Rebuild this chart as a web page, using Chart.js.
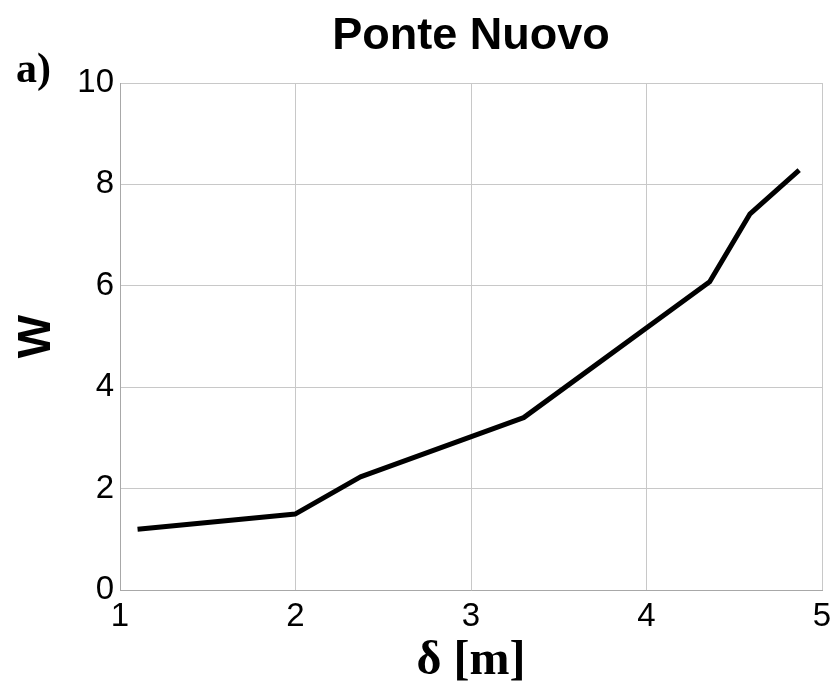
<!DOCTYPE html>
<html>
<head>
<meta charset="utf-8">
<script src="https://cdn.jsdelivr.net/npm/chart.js@4"></script>
<style>
  html, body { margin: 0; padding: 0; background: #ffffff; }
  #wrap { width: 837px; height: 688px; }
</style>
</head>
<body>
<div id="wrap"><canvas id="chart" width="837" height="688"></canvas></div>
<script>
// values
const delta = [1.1, 2.0, 2.37, 3.3, 4.36, 4.59, 4.87];
const wValues = [1.2, 1.5, 2.23, 3.4, 6.08, 7.42, 8.28];
const xTicks = [1, 2, 3, 4, 5];
const yTicks = [0, 2, 4, 6, 8, 10];

const points = delta.map((d, i) => ({ x: d, y: wValues[i] }));

// "a)" panel mark in the top left corner
const panelLabel = {
    id: 'panelLabel',
    afterDraw(chart) {
        const ctx = chart.ctx;
        ctx.save();
        ctx.fillStyle = '#000';
        ctx.font = 'bold 42px "Liberation Serif", "Times New Roman", serif';
        ctx.textBaseline = 'alphabetic';
        ctx.textAlign = 'left';
        ctx.fillText('a)', 16, 82);
        ctx.restore();
    }
};

const gridColor = '#c8c8c8';

const config = {
    type: 'line',
    data: {
        datasets: [
            {
                label: 'W',
                data: points,
                borderColor: '#000000',
                backgroundColor: '#000000',
                borderWidth: 5,
                pointRadius: 0,
                tension: 0,
                fill: false,
                borderCapStyle: 'butt',
                borderJoinStyle: 'round',
            }
        ]
    },
    options: {
        responsive: false,
        animation: false,
        layout: {
            padding: { left: 10, right: 15, top: 0, bottom: 2 }
        },
        scales: {
            x: {
                type: 'linear',
                min: 1,
                max: 5,
                afterBuildTicks: (scale) => { scale.ticks = xTicks.map(v => ({ value: v })); },
                afterFit: (scale) => {
                    scale.height = 96;
                    scale.paddingRight = 0;
                    scale.paddingLeft = 0;
                },
                ticks: {
                    color: '#000',
                    padding: 7,
                    font: { family: '"Liberation Sans", Arial, sans-serif', size: 33 },
                },
                grid: { color: gridColor, lineWidth: 1, drawTicks: false },
                border: { color: '#a8a8a8', width: 1 },
                title: {
                    display: true,
                    text: 'δ [m]',
                    color: '#000',
                    padding: 0,
                    font: { family: '"Liberation Serif", "Times New Roman", serif', size: 48, weight: 'bold', lineHeight: 1 },
                }
            },
            y: {
                min: 0,
                max: 10,
                afterBuildTicks: (scale) => { scale.ticks = yTicks.map(v => ({ value: v })); },
                afterFit: (scale) => { scale.width = 110; },
                ticks: {
                    color: '#000',
                    padding: 6,
                    font: { family: '"Liberation Sans", Arial, sans-serif', size: 33 },
                },
                grid: { color: gridColor, lineWidth: 1, drawTicks: false },
                border: { color: '#a8a8a8', width: 1 },
                title: {
                    display: true,
                    text: 'W',
                    color: '#000',
                    padding: 0,
                    font: { family: '"Liberation Sans", Arial, sans-serif', size: 46, weight: 'bold', lineHeight: 1.2 },
                }
            }
        },
        plugins: {
            legend: { display: false },
            tooltip: { enabled: false },
            title: {
                display: true,
                text: 'Ponte Nuovo',
                color: '#000',
                fullSize: false,
                padding: { top: 10, bottom: 19 },
                font: { family: '"Liberation Sans", Arial, sans-serif', size: 45, weight: 'bold', lineHeight: 1.2 },
            }
        }
    },
    plugins: [panelLabel]
};

const ctx = document.getElementById('chart').getContext('2d');
new Chart(ctx, config);
</script>
</body>
</html>
